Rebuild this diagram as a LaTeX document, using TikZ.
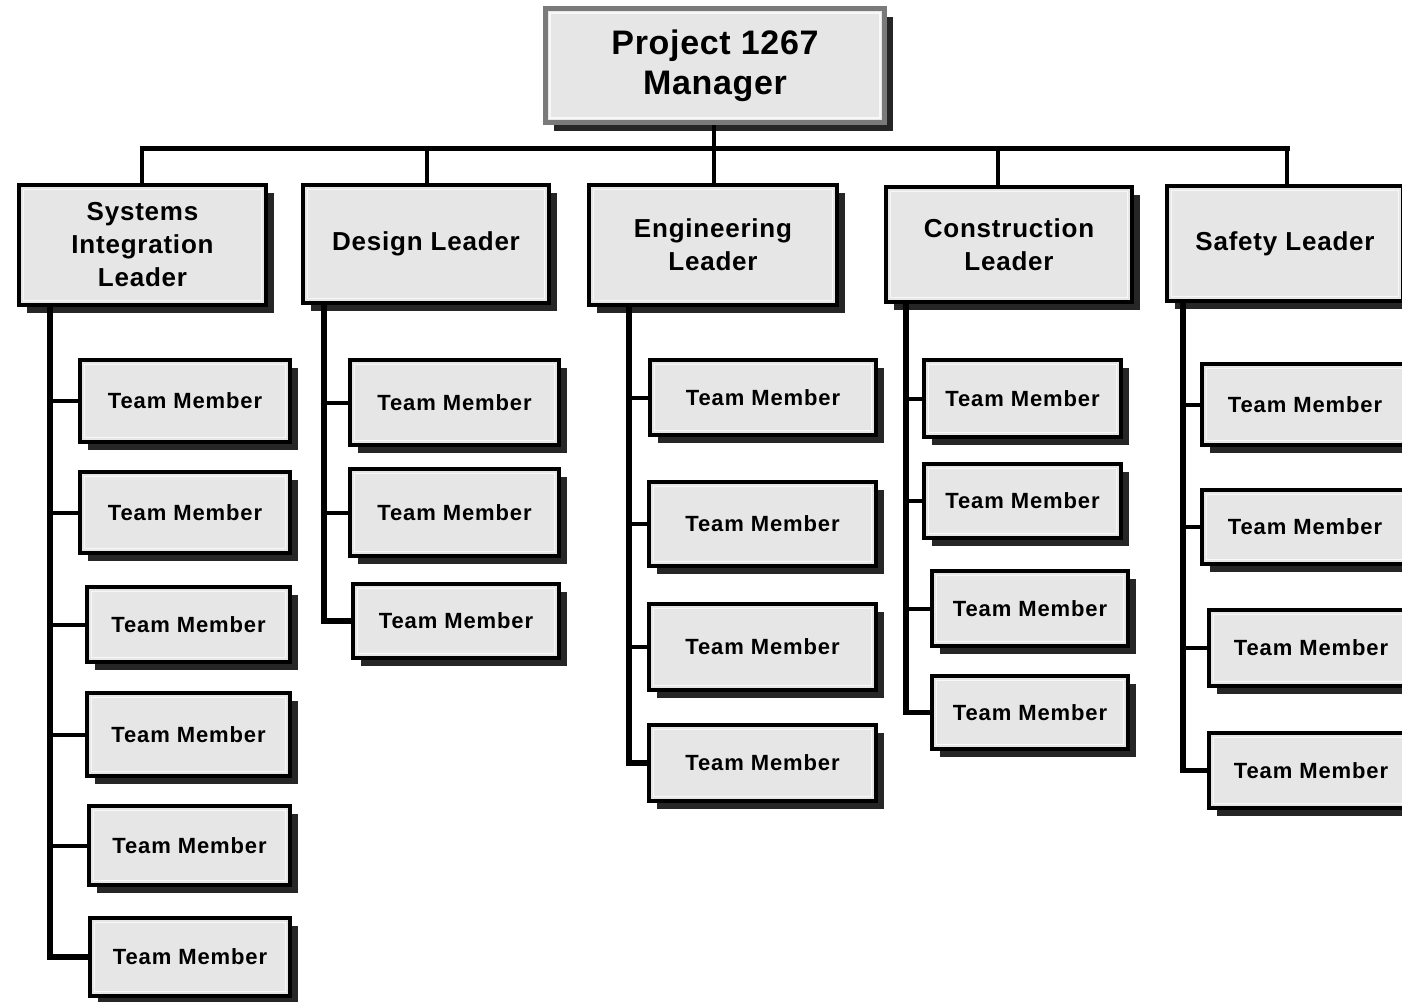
\documentclass[tikz,border=0pt]{standalone}
\usepackage{fontspec}
\setmainfont{Liberation Sans}
\usetikzlibrary{shadows}
\definecolor{boxgray}{HTML}{E6E6E6}
\definecolor{shadowgray}{HTML}{262626}
\definecolor{mgrborder}{HTML}{7A7A7A}
\tikzset{
  orgbox/.style={draw=black, line width=4pt, fill=boxgray, inner sep=0pt, align=center,
    drop shadow={shadow xshift=8pt, shadow yshift=-8pt, fill=shadowgray, opacity=1},
    path picture={\draw[white!70!boxgray, line width=1.5pt]
      ([shift={(4.5pt,-4.5pt)}]path picture bounding box.north west) rectangle
      ([shift={(-4.5pt,4.5pt)}]path picture bounding box.south east);}},
  mgrbox/.style={orgbox, draw=mgrborder, line width=5pt,
    font=\bfseries\fontsize{34}{40}\selectfont\addfontfeatures{LetterSpace=2}},
  leadbox/.style={orgbox, font=\bfseries\fontsize{26}{33}\selectfont\addfontfeatures{LetterSpace=3}},
  membox/.style={orgbox, font=\bfseries\fontsize{22}{26}\selectfont\addfontfeatures{LetterSpace=4}},
  wh/.style 2 args={minimum width=#1pt, minimum height=#2pt},
  bus/.style={line width=5pt, draw=black},
  colline/.style={line width=5.5pt, draw=black},
  branch/.style={line width=4pt, draw=black},
}
\begin{document}
\begin{tikzpicture}[x=1pt, y=1pt]
\useasboundingbox (0,0) rectangle (1402,-1001);
\clip (0,0) rectangle (1402,-1001);
\fill[white] (0,0) rectangle (1402,-1001);

% manager
\node[mgrbox, wh={339}{114}] (mgr) at (715,-65.5) {Project 1267\\Manager};

% leaders
\node[leadbox, wh={247}{120}] (sys) at (142.5,-245) {Systems\\Integration\\Leader};
\node[leadbox, wh={246}{118}] (des) at (426,-244) {Design Leader};
\node[leadbox, wh={248}{120}] (eng) at (713,-245) {Engineering\\Leader};
\node[leadbox, wh={246}{115}] (con) at (1009,-244.5) {Construction\\Leader};
\node[leadbox, wh={236}{115}] (saf) at (1285,-243.5) {Safety Leader};

% systems members
\node[membox, wh={210}{82}] (s1) at (185,-401) {Team Member};
\node[membox, wh={210}{81}] (s2) at (185,-512.5) {Team Member};
\node[membox, wh={203}{75}] (s3) at (188.5,-624.5) {Team Member};
\node[membox, wh={203}{83}] (s4) at (188.5,-734.5) {Team Member};
\node[membox, wh={201}{79}] (s5) at (189.5,-845.5) {Team Member};
\node[membox, wh={200}{78}] (s6) at (190,-957) {Team Member};
% design members
\node[membox, wh={209}{85}] (d1) at (454.5,-402.5) {Team Member};
\node[membox, wh={209}{87}] (d2) at (454.5,-512.5) {Team Member};
\node[membox, wh={206}{74}] (d3) at (456,-621) {Team Member};
% engineering members
\node[membox, wh={226}{75}] (e1) at (763,-397.5) {Team Member};
\node[membox, wh={227}{84}] (e2) at (762.5,-524) {Team Member};
\node[membox, wh={227}{86}] (e3) at (762.5,-647) {Team Member};
\node[membox, wh={227}{76}] (e4) at (762.5,-763) {Team Member};
% construction members
\node[membox, wh={197}{77}] (c1) at (1022.5,-398.5) {Team Member};
\node[membox, wh={197}{74}] (c2) at (1022.5,-501) {Team Member};
\node[membox, wh={196}{75}] (c3) at (1030,-608.5) {Team Member};
\node[membox, wh={196}{73}] (c4) at (1030,-712.5) {Team Member};
% safety members
\node[membox, wh={206}{81}] (a1) at (1305,-404.5) {Team Member};
\node[membox, wh={206}{74}] (a2) at (1305,-527) {Team Member};
\node[membox, wh={204}{76}] (a3) at (1311,-648) {Team Member};
\node[membox, wh={204}{75}] (a4) at (1311,-770.5) {Team Member};

% bus and drops
\coordinate (j1) at (142,-148);
\coordinate (j2) at (427,-148);
\coordinate (j3) at (714,-148);
\coordinate (j4) at (998,-148);
\coordinate (j5) at (1287,-148);
\draw[bus] ([xshift=-2.5pt]j1) -- ([xshift=2.5pt]j5);
\draw[branch] (mgr.south -| j3) -- (eng.north -| j3);
\draw[branch] (j1) -- (sys.north -| j1);
\draw[branch] (j2) -- (des.north -| j2);
\draw[branch] (j4) -- (con.north -| j4);
\draw[branch] (j5) -- (saf.north -| j5);

% columns
\coordinate (ks) at (50,0);
\coordinate (kd) at (324,0);
\coordinate (ke) at (629,0);
\coordinate (kc) at (906,0);
\coordinate (ka) at (1183,0);
\draw[colline] (sys.south -| ks) |- (s6.west);
\foreach \m in {s1,s2,s3,s4,s5} \draw[branch] (ks |- \m.west) -- (\m.west);
\draw[colline] (des.south -| kd) |- (d3.west);
\foreach \m in {d1,d2} \draw[branch] (kd |- \m.west) -- (\m.west);
\draw[colline] (eng.south -| ke) |- (e4.west);
\foreach \m in {e1,e2,e3} \draw[branch] (ke |- \m.west) -- (\m.west);
\draw[colline] (con.south -| kc) |- (c4.west);
\foreach \m in {c1,c2,c3} \draw[branch] (kc |- \m.west) -- (\m.west);
\draw[colline] (saf.south -| ka) |- (a4.west);
\foreach \m in {a1,a2,a3} \draw[branch] (ka |- \m.west) -- (\m.west);
\end{tikzpicture}
\end{document}
